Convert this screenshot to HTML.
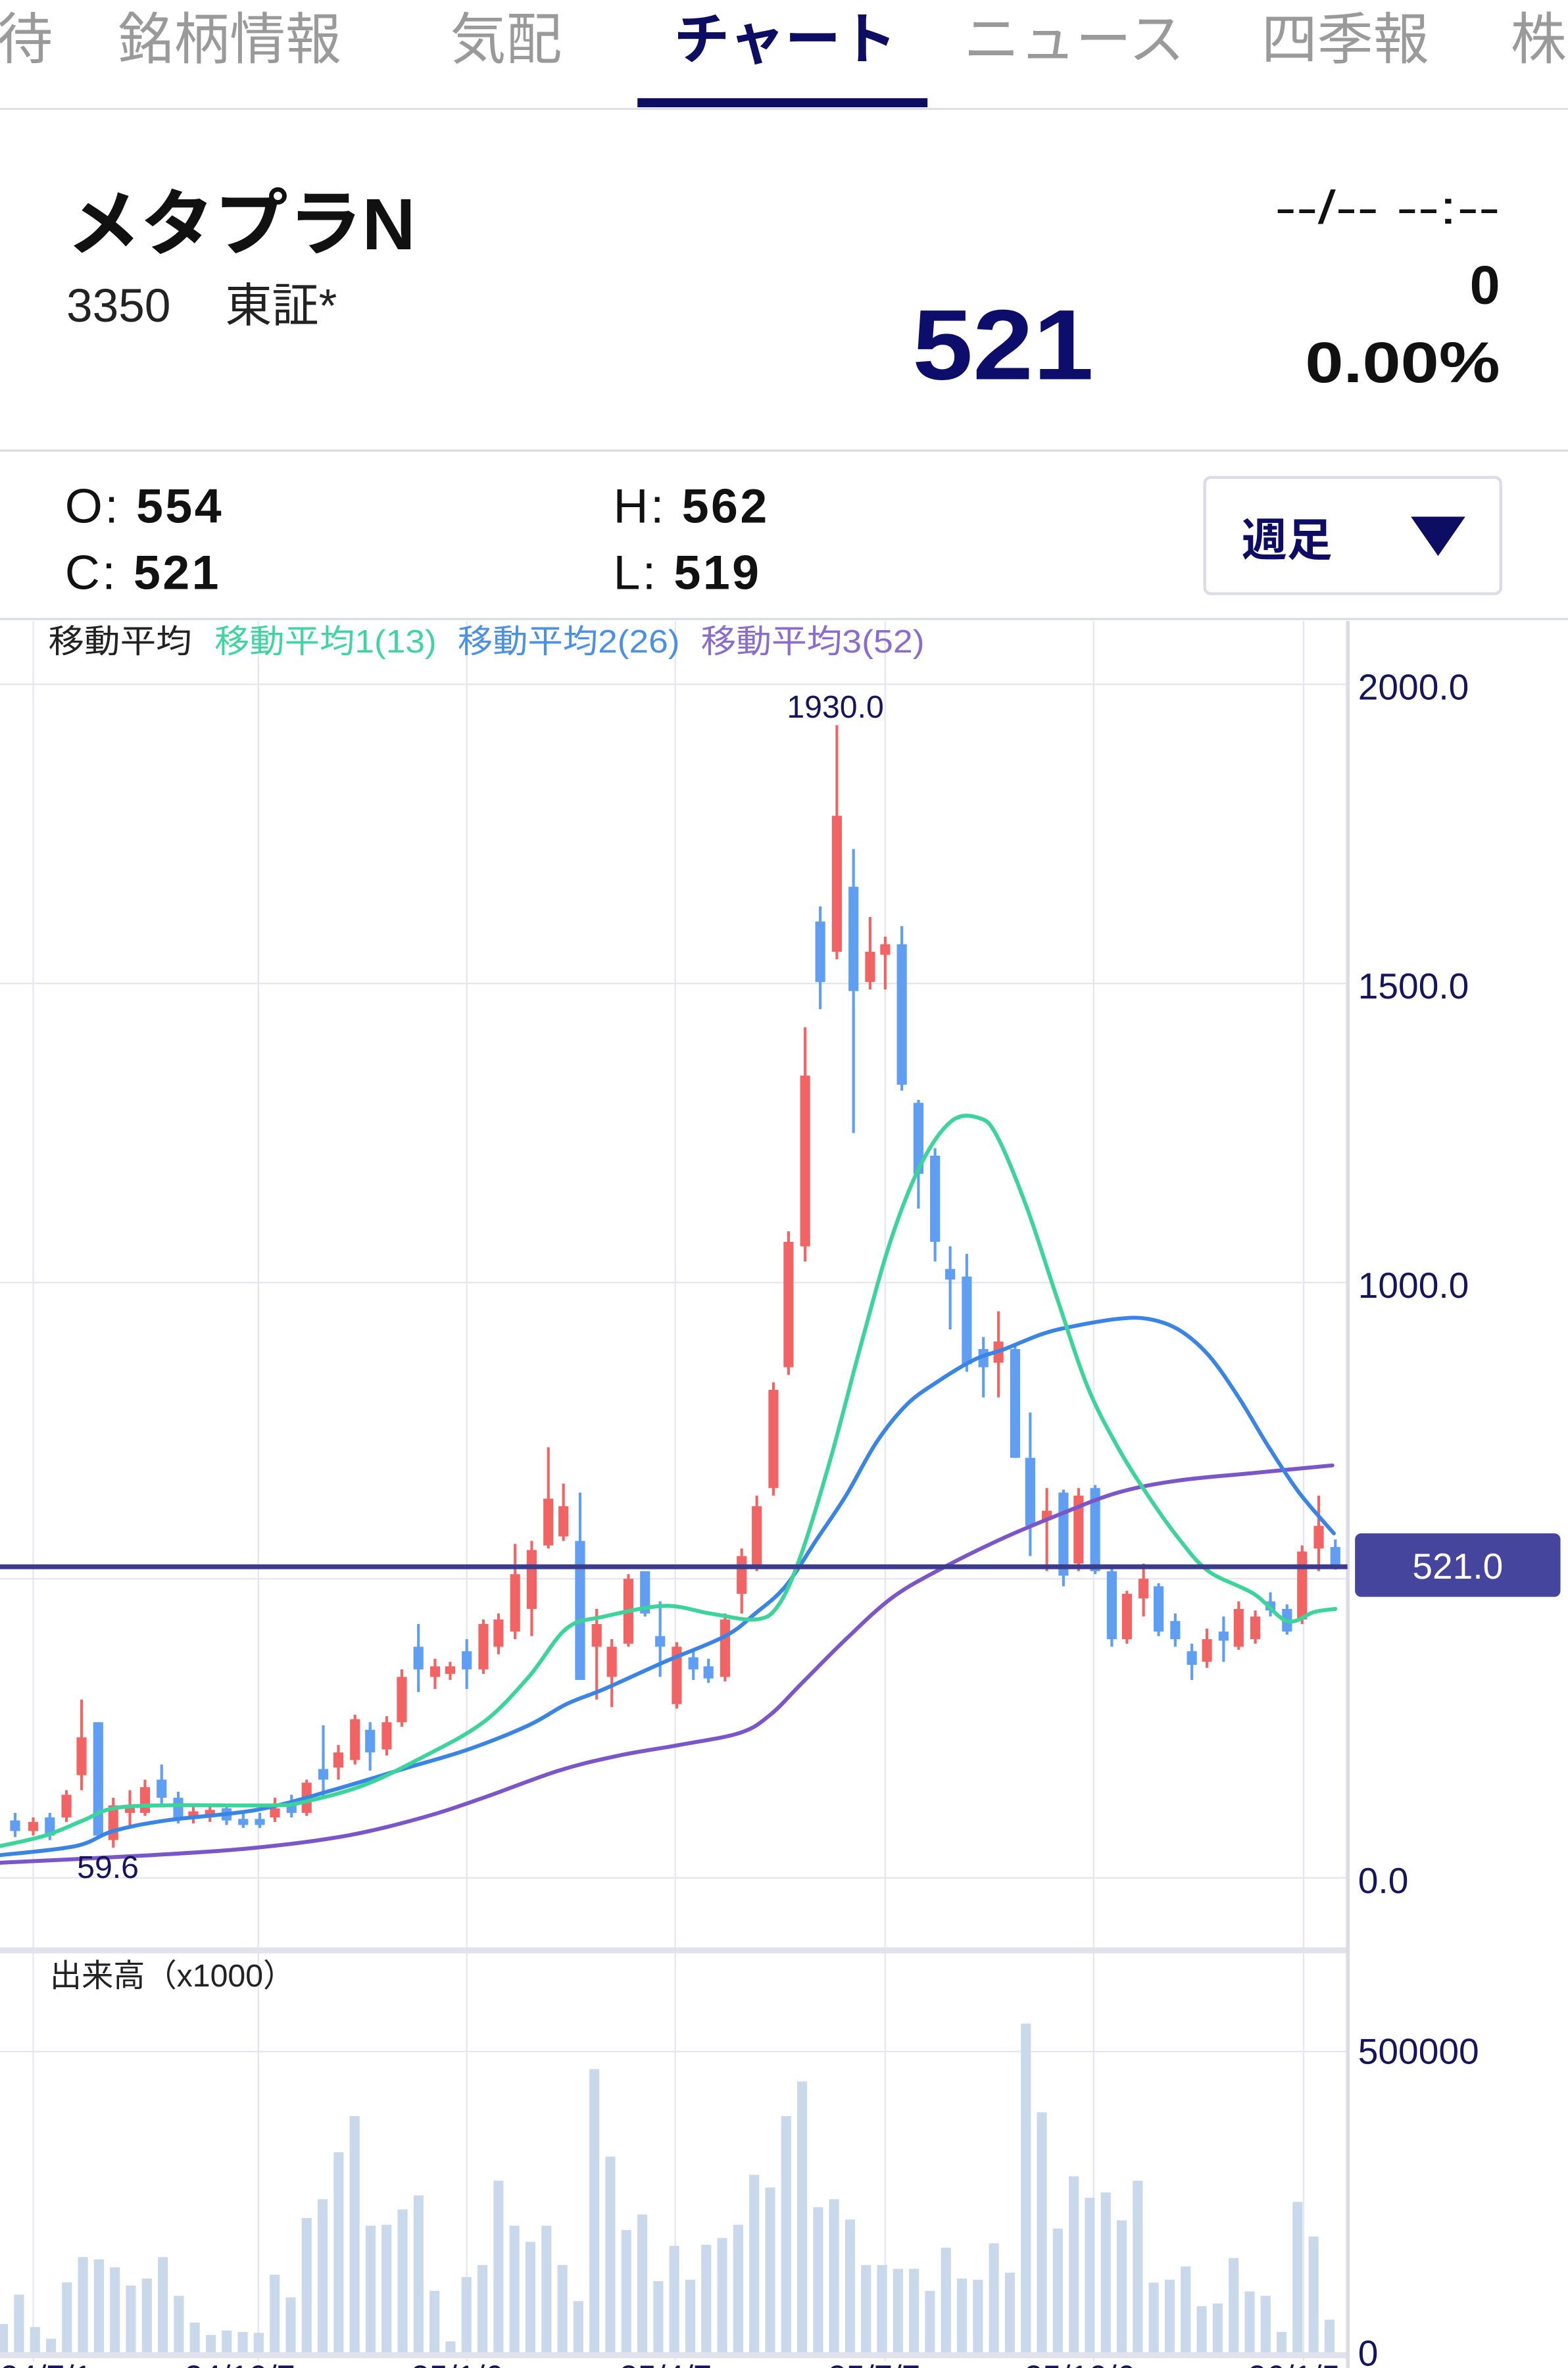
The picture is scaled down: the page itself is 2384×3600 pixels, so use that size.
<!DOCTYPE html>
<html><head><meta charset="utf-8">
<style>
html,body{margin:0;padding:0;background:#fff;}
svg{display:block;}
text{font-family:"Liberation Sans","Noto Sans CJK JP",sans-serif;}
</style></head>
<body>
<svg id="s" xmlns="http://www.w3.org/2000/svg" width="2384" height="3600" viewBox="0 0 1038 1567.45">
<rect width="1038" height="1568" fill="#fff"/>
<g font-size="37" fill="#9a9a9a">
<text x="-2" y="39">待</text>
<text x="78" y="39">銘柄情報</text>
<text x="298" y="39">気配</text>
<text x="446" y="39" fill="#0d0d63" font-weight="bold">チャート</text>
<text x="638" y="39">ニュース</text>
<text x="835" y="39">四季報</text>
<text x="1000" y="39">株</text>
</g>
<rect x="422" y="65" width="192" height="6" fill="#0d0d63"/>
<rect x="0" y="71.5" width="1038" height="1.2" fill="#dcdce4"/>
<text x="44" y="165" font-size="48" font-weight="bold" fill="#111" textLength="231" lengthAdjust="spacingAndGlyphs">メタプラN</text>
<text x="44" y="213" font-size="31" fill="#222">3350</text>
<text x="149" y="213" font-size="31" fill="#222">東証*</text>
<text x="604" y="251" font-size="66" font-weight="bold" fill="#0d0d6b" textLength="120" lengthAdjust="spacingAndGlyphs">521</text>
<text x="993" y="148" font-size="31" text-anchor="end" fill="#111" textLength="149" lengthAdjust="spacingAndGlyphs">--/-- --:--</text>
<text x="993" y="201" font-size="36" font-weight="bold" text-anchor="end" fill="#111">0</text>
<text x="993" y="253" font-size="38" font-weight="bold" text-anchor="end" fill="#111" textLength="129" lengthAdjust="spacingAndGlyphs">0.00%</text>
<rect x="0" y="297.5" width="1038" height="1.5" fill="#dcdce4"/>
<g font-size="32" fill="#111" letter-spacing="1.5">
<text x="43" y="346">O: <tspan font-weight="bold">554</tspan></text>
<text x="43" y="390">C: <tspan font-weight="bold">521</tspan></text>
<text x="406" y="346">H: <tspan font-weight="bold">562</tspan></text>
<text x="406" y="390">L: <tspan font-weight="bold">519</tspan></text>
</g>
<rect x="797.5" y="316" width="196" height="77" rx="4" fill="#fff" stroke="#dcdce6" stroke-width="2"/>
<text x="822" y="368" font-size="30" font-weight="bold" fill="#0d0d63">週足</text>
<polygon points="934,342 970,342 952,368" fill="#0d0d63"/>
<rect x="0" y="409" width="1038" height="1.5" fill="#dcdce4"/>
<g id="chart"></g>
</svg>
<script>
const NS="http://www.w3.org/2000/svg";
const g=document.getElementById('chart');
function el(t,a,txt){const e=document.createElementNS(NS,t);for(const k in a)e.setAttribute(k,a[k]);if(txt!==undefined)e.textContent=txt;g.appendChild(e);return e;}
[22,171,309,447,586,724,863].forEach(x=>el('rect',{x:x-0.5,y:411,width:1,height:1152,fill:'#e6e6ef'}));
[453,651,849,1045,1243].forEach(y=>el('rect',{x:0,y:y-0.5,width:892,height:1,fill:'#e6e6ef'}));
el('rect',{x:0,y:1357.5,width:892,height:1,fill:'#e6e6ef'});
el('rect',{x:0,y:1289,width:892,height:4,fill:'#e2e2ec'});
el('rect',{x:0,y:1557,width:892,height:4,fill:'#e2e2ec'});
el('rect',{x:891,y:411,width:2.5,height:1157,fill:'#dcdce8'});
el('text',{x:32,y:432,'font-size':21.5,fill:'#222',textLength:95,lengthAdjust:'spacingAndGlyphs'},'移動平均');
el('text',{x:142,y:432,'font-size':21.5,fill:'#3fd4a0',textLength:147,lengthAdjust:'spacingAndGlyphs'},'移動平均1(13)');
el('text',{x:303,y:432,'font-size':21.5,fill:'#4a8fe8',textLength:147,lengthAdjust:'spacingAndGlyphs'},'移動平均2(26)');
el('text',{x:464,y:432,'font-size':21.5,fill:'#8a6cd0',textLength:148,lengthAdjust:'spacingAndGlyphs'},'移動平均3(52)');
[[2000,453],[1500,651],[1000,849],[0,1243]].forEach(([v,y])=>el('text',{x:899,y:y+10,'font-size':24,fill:'#15155e'},v.toFixed(1)));
el('text',{x:899,y:1366,'font-size':24,fill:'#15155e'},'500000');
el('text',{x:899,y:1566,'font-size':24,fill:'#15155e'},'0');
el('text',{x:33,y:1315,'font-size':21,fill:'#222'},'出来高（x1000）');
const vt=[1418,1318,1428,1468,1276,1190,1198,1225,1287,1263,1190,1322,1413,1455,1440,1445,1448,1250,1327,1057,993,833,710,1083,1080,1028,980,1305,1477,1258,1217,930,1083,1138,1083,1217,1340,550,848,1098,1045,1272,1152,1267,1148,1125,1080,910,953,710,592,1020,993,1062,1217,1217,1230,1230,1305,1158,1263,1267,1143,1243,395,697,1093,915,988,970,1065,930,1277,1267,1222,1357,1348,1193,1307,1322,1445,1002,1120,1403];
vt.forEach((t,i)=>{const x=2+i*10.58;const y=1262.7+t*0.1944;el('rect',{x:x-3.3,y:y,width:6.6,height:1557-y,fill:'#cad8ec'});});
const C=[
[10,1205,1212,1200,1216,'b'],[22,1206,1212,1203,1215,'r'],[33,1203,1215,1200,1218,'b'],[44,1188,1203,1185,1206,'r'],
[54,1150,1175,1125,1185,'r'],[65,1140,1215,1140,1217,'b'],[75,1195,1218,1190,1223,'r'],[86,1195,1200,1185,1210,'r'],
[96,1183,1200,1178,1202,'r'],[107,1178,1190,1168,1195,'b'],[118,1190,1203,1186,1207,'b'],[128,1199,1204,1196,1207,'r'],
[139,1198,1203,1194,1206,'r'],[150,1197,1205,1194,1208,'b'],[161,1204,1208,1200,1210,'b'],[172,1204,1208,1200,1210,'b'],
[182,1197,1203,1190,1206,'r'],[193,1193,1200,1188,1203,'b'],[203,1180,1200,1178,1202,'r'],[214,1171,1178,1142,1190,'b'],
[224,1160,1170,1155,1178,'r'],[235,1138,1165,1135,1168,'r'],[245,1145,1160,1140,1172,'b'],[256,1140,1158,1136,1162,'r'],
[266,1110,1140,1105,1143,'r'],[277,1090,1105,1075,1120,'b'],[288,1103,1110,1098,1118,'r'],[298,1103,1108,1100,1112,'r'],
[309,1093,1105,1085,1118,'b'],[320,1075,1105,1072,1108,'r'],[330,1072,1090,1068,1095,'r'],[341,1042,1080,1022,1085,'r'],
[352,1026,1065,1020,1083,'r'],[363,992,1023,958,1025,'r'],[373,997,1017,982,1020,'r'],[384,1020,1112,988,1112,'b'],
[395,1075,1090,1065,1125,'r'],[405,1090,1110,1085,1130,'r'],[416,1045,1088,1042,1090,'r'],[427,1040,1068,1040,1070,'b'],
[437,1083,1090,1060,1110,'b'],[448,1090,1128,1087,1131,'r'],[459,1097,1105,1092,1112,'b'],[469,1103,1111,1098,1114,'b'],
[480,1072,1110,1068,1113,'r'],[491,1030,1055,1025,1068,'r'],[501,997,1036,990,1040,'r'],[512,920,985,915,990,'r'],
[522,822,905,815,910,'r'],[533,712,825,680,835,'r'],[543,610,650,600,668,'b'],[554,540,630,480,635,'r'],
[565,587,656,562,750,'b'],[576,630,650,607,655,'r'],[586,625,632,620,655,'r'],[597,625,718,613,722,'b'],
[608,730,777,728,800,'b'],[619,765,822,760,835,'b'],[629,840,847,825,880,'b'],[640,845,903,830,908,'b'],
[651,893,905,885,925,'b'],[661,888,902,868,925,'r'],[672,893,965,890,965,'b'],[682,965,1010,935,1030,'b'],
[693,1000,1006,985,1040,'r'],[704,988,1043,986,1050,'b'],[714,990,1035,985,1040,'r'],[725,985,1040,983,1042,'b'],
[736,1040,1085,1038,1090,'b'],[746,1055,1085,1053,1088,'r'],[757,1045,1058,1035,1070,'r'],[767,1050,1080,1048,1083,'b'],
[778,1073,1085,1068,1090,'b'],[789,1093,1102,1088,1112,'b'],[799,1085,1100,1078,1104,'r'],[810,1080,1086,1070,1100,'b'],
[820,1065,1090,1060,1092,'r'],[831,1070,1085,1066,1088,'r'],[841,1060,1066,1054,1070,'b'],[852,1065,1080,1062,1082,'b'],
[862,1027,1072,1023,1075,'r'],[873,1010,1025,990,1040,'r'],[884,1024,1037,1019,1039,'b']];
C.forEach(([x,t,b,h,l,c])=>{const col=c=='r'?'#f26464':'#5f9ef2';
el('rect',{x:x-0.9,y:h,width:1.8,height:l-h,fill:col});
el('rect',{x:x-3.3,y:t,width:6.6,height:Math.max(2,b-t),fill:col});});
function line(p,col){let d='M'+p[0][0]+','+p[0][1];
for(let i=0;i<p.length-1;i++){const p0=p[i-1]||p[i],p1=p[i],p2=p[i+1],p3=p[i+2]||p2;
const c1=[p1[0]+(p2[0]-p0[0])/6,p1[1]+(p2[1]-p0[1])/6],c2=[p2[0]-(p3[0]-p1[0])/6,p2[1]-(p3[1]-p1[1])/6];
d+=` C${c1[0]},${c1[1]} ${c2[0]},${c2[1]} ${p2[0]},${p2[1]}`;}
el('path',{d:d,fill:'none',stroke:col,'stroke-width':2.6,'stroke-linejoin':'round','stroke-linecap':'round'});}
line([[0,1233],[100,1228],[170,1223],[230,1215],[280,1203],[320,1190],[370,1172],[410,1162],[450,1155],[490,1147],[510,1135],[530,1115],[560,1085],[590,1058],[620,1040],[660,1020],[700,1003],[740,988],[780,980],[830,975],[882,970]],'#7a56c8');
line([[0,1228],[50,1222],[75,1212],[110,1205],[170,1198],[220,1185],[270,1170],[310,1158],[350,1142],[375,1128],[400,1118],[440,1100],[480,1083],[500,1068],[520,1050],[540,1020],[560,990],[580,955],[600,930],[620,915],[645,900],[665,893],[690,883],[710,878],[740,873],[760,873],[780,880],[800,897],[820,925],[840,958],[860,988],[883,1015]],'#3a84e6');
line([[0,1222],[30,1215],[55,1205],[75,1197],[110,1195],[180,1195],[200,1193],[240,1182],[280,1163],[320,1140],[350,1110],[375,1078],[400,1070],[440,1063],[470,1068],[500,1072],[515,1063],[530,1030],[550,965],[570,890],[590,820],[610,770],[630,742],[648,740],[660,752],[680,800],[700,860],[720,918],[740,958],[760,990],[780,1018],[800,1040],[830,1055],[852,1073],[870,1067],[884,1065]],'#3dd49c');
el('rect',{x:0,y:1035.5,width:892,height:3.2,fill:'#3c3c8c'});
el('rect',{x:897,y:1015,width:136,height:42,rx:4,fill:'#45459e'});
el('text',{x:965,y:1045,'font-size':24,fill:'#fff','text-anchor':'middle'},'521.0');
el('text',{x:553,y:475,'font-size':21,fill:'#15155e','text-anchor':'middle'},'1930.0');
el('text',{x:51,y:1243,'font-size':21,fill:'#15155e'},'59.6');
[[0,'24/7/1'],[122,'24/10/7'],[272,'25/1/6'],[410,'25/4/7'],[548,'25/7/7'],[678,'25/10/6'],[826,'26/1/5']].forEach(([x,t])=>el('text',{x:x,y:1581,'font-size':22,fill:'#15155e'},t));
</script>
</body></html>
